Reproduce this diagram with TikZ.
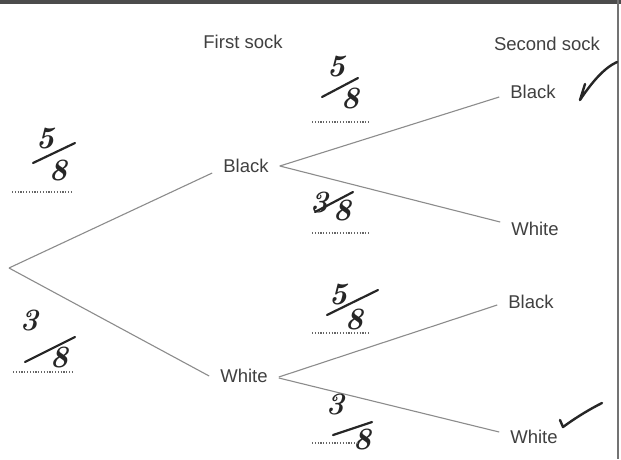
\documentclass[tikz,border=0pt]{standalone}
\usepackage{fontspec}
\setmainfont{Liberation Sans}
\newfontfamily\handfont{Latin Modern Roman}
\begin{document}
\begin{tikzpicture}[x=1pt,y=-1pt,
  lbl/.style={font=\fontsize{18.5}{22}\selectfont, text=black!75, inner xsep=11pt, inner ysep=2pt},
  branch/.style={draw=black!45, line width=1.1pt},
  digit/.style={font=\handfont\bfseries\itshape\fontsize{31}{31}\selectfont, text=black!85, inner sep=0pt},
  slash/.style={draw=black!85, line width=2.2pt, line cap=round},
  answerline/.style={draw=black!60, line width=1.3pt, dash pattern=on 1.2pt off 1.6pt},
  tick/.style={draw=black!85, line width=2.4pt, line cap=round, line join=round}]
\useasboundingbox (0,0) rectangle (621,459);
\fill[white] (0,0) rectangle (621,459);
% frame of the scan
\fill[black!70] (0,0) rectangle (621,4);
\draw[black!55, line width=1.2pt] (618,0) -- (618,459);
% headings
\node[lbl] (first) at (243,42) {First sock};
\node[lbl] (second) at (547,44) {Second sock};
% tree nodes
\coordinate (root) at (9,268);
\node[lbl] (b1) at (246,166) {Black};
\node[lbl] (w1) at (244,376) {White};
\node[lbl] (bb) at (533,92) {Black};
\node[lbl] (bw) at (535,229) {White};
\node[lbl] (wb) at (531,302) {Black};
\node[lbl] (ww) at (534,437) {White};
% branches
\draw[branch] (root) -- ([yshift=-7pt]b1.west);
\draw[branch] (root) -- (w1.west);
\draw[branch] (b1.east) -- ([yshift=-5pt]bb.west);
\draw[branch] (b1.east) -- ([yshift=7pt]bw.west);
\draw[branch] ([yshift=-1pt]w1.east) -- ([yshift=-3pt]wb.west);
\draw[branch] ([yshift=-2pt]w1.east) -- ([yshift=5pt]ww.west);
% fraction 1: 5/8
\node[digit] (fa5) at (45,139) {5};
\node[digit] (fa8) at (58,171) {8};
\coordinate (fa1) at (33,163); \coordinate (fa2) at (75,143);
\draw[slash] (fa1) -- (fa2);
\coordinate (la1) at (12,192); \coordinate (la2) at (72,192);
\draw[answerline] (la1) -- (la2);
% fraction 2: 3/8
\node[digit] (fb3) at (29,321) {3};
\node[digit] (fb8) at (59,358) {8};
\coordinate (fb1) at (25,362); \coordinate (fb2) at (75,337);
\draw[slash] (fb1) -- (fb2);
\coordinate (lb1) at (13,372); \coordinate (lb2) at (72,372);
\draw[answerline] (lb1) -- (lb2);
% fraction 3: 5/8
\node[digit] (fc5) at (336,67) {5};
\node[digit] (fc8) at (350,99) {8};
\coordinate (fc1) at (322,97); \coordinate (fc2) at (358,78);
\draw[slash] (fc1) -- (fc2);
\coordinate (lc1) at (312,122); \coordinate (lc2) at (370,122);
\draw[answerline] (lc1) -- (lc2);
% fraction 4: 3/8
\node[digit] (fd3) at (319,203) {3};
\node[digit] (fd8) at (342,211) {8};
\coordinate (fd1) at (315,212); \coordinate (fd2) at (353,192);
\draw[slash] (fd1) -- (fd2);
\coordinate (ld1) at (312,233); \coordinate (ld2) at (370,233);
\draw[answerline] (ld1) -- (ld2);
% fraction 5: 5/8
\node[digit] (fe5) at (338,295) {5};
\node[digit] (fe8) at (354,320) {8};
\coordinate (fe1) at (327,315); \coordinate (fe2) at (378,290);
\draw[slash] (fe1) -- (fe2);
\coordinate (le1) at (312,333); \coordinate (le2) at (370,333);
\draw[answerline] (le1) -- (le2);
% fraction 6: 3/8
\node[digit] (ff3) at (335,405) {3};
\node[digit] (ff8) at (362,440) {8};
\coordinate (ff1) at (333,435); \coordinate (ff2) at (372,422);
\draw[slash] (ff1) -- (ff2);
\coordinate (lf1) at (312,443); \coordinate (lf2) at (357,443);
\draw[answerline] (lf1) -- (lf2);
% ticks
\coordinate (ta1) at (585,84); \coordinate (ta2) at (580,100); \coordinate (ta3) at (617,62);
\draw[tick] (ta1) -- (ta2) .. controls (592,82) and (604,68) .. (ta3);
\coordinate (tb1) at (560,420); \coordinate (tb2) at (563,427); \coordinate (tb3) at (602,403);
\draw[tick] (tb1) -- (tb2) .. controls (578,416) and (592,408) .. (tb3);
\end{tikzpicture}
\end{document}
